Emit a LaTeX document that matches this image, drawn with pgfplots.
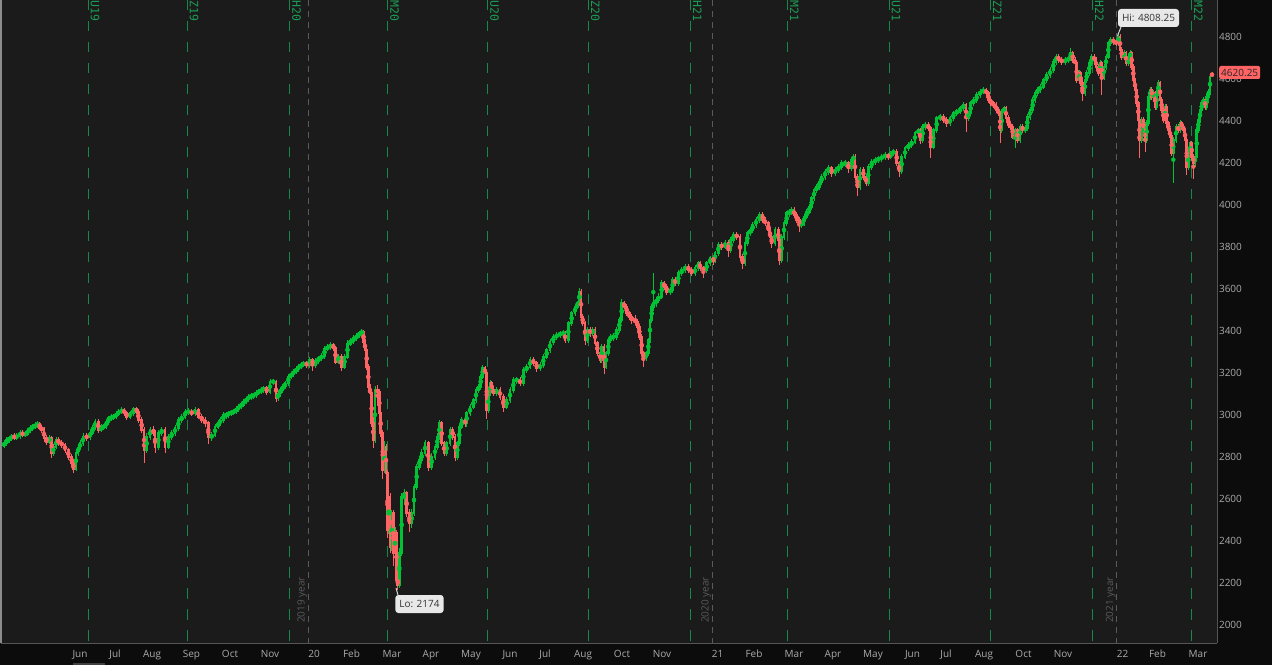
\documentclass[border=0pt]{standalone}
\usepackage{pgfplots}
\pgfplotsset{compat=1.18}
\usepackage{pgfplotstable}
\usepackage{fontspec}
\setmainfont{Open Sans}
\newfontfamily\monofont{DejaVu Sans Mono}
\definecolor{bgplot}{HTML}{1B1B1B}
\definecolor{bgout}{HTML}{0C0C0C}
\definecolor{upc}{HTML}{00C234}
\definecolor{dnc}{HTML}{FF6464}
\definecolor{rollc}{HTML}{15884A}
\definecolor{rolltxt}{HTML}{1B9E55}
\definecolor{yearc}{HTML}{5A5A5A}
\definecolor{tickc}{HTML}{ABABAB}
\definecolor{borderc}{HTML}{555555}
\pgfplotstableread{
x o h l c
4 2855 2872 2848 2865
6.7 2865 2888 2860 2881
9.2 2881 2895 2876 2890
11.7 2890 2903 2884 2897
14.2 2897 2906 2888 2893
16.7 2893 2908 2887 2900
20 2900 2920 2895 2914
22.5 2914 2921 2902 2906
25 2906 2918 2900 2912
27.5 2912 2930 2908 2925
30 2925 2944 2920 2938
32.5 2938 2950 2930 2945
35 2945 2958 2938 2952
37.5 2952 2964 2944 2958
39.5 2958 2962 2935 2940
41.7 2940 2946 2920 2929
44 2929 2934 2880 2890
46.7 2890 2898 2866 2873
49.3 2873 2900 2868 2890
51.7 2890 2894 2800 2819
53.3 2819 2856 2812 2849
56 2849 2888 2844 2881
58.3 2881 2890 2860 2867
61.7 2867 2874 2850 2857
65 2857 2862 2826 2833
68.3 2833 2838 2794 2801
71.7 2801 2806 2762 2771
73.3 2771 2778 2730 2745
76 2745 2826 2740 2819
78 2819 2850 2812 2845
80 2845 2872 2838 2865
83 2865 2905 2860 2897
86.7 2897 2908 2885 2895
90 2895 2920 2890 2914
92.5 2914 2945 2910 2940
95 2940 2975 2935 2968
98.3 2968 2972 2922 2929
101 2929 2948 2924 2940
103.3 2940 2952 2934 2945
106 2945 2970 2940 2965
108.3 2965 2990 2960 2984
111 2984 2996 2978 2990
113.3 2990 3000 2982 2992
116 2992 3010 2986 3005
118.3 3005 3022 3000 3016
121.7 3016 3030 3010 3024
124 3024 3028 3004 3010
126.7 3010 3014 2985 2992
130 2992 3014 2988 3008
133.3 3008 3032 3002 3027
136.7 3027 3032 3010 3016
138.3 3016 3020 2970 2976
141.7 2976 2982 2920 2929
144 2929 2935 2778 2833
146.7 2833 2905 2826 2897
150 2897 2936 2890 2929
153.3 2929 2940 2905 2914
155 2914 2920 2825 2849
158.3 2849 2920 2842 2914
161.7 2914 2938 2908 2929
165 2929 2935 2828 2850
168.3 2850 2904 2844 2897
171.7 2897 2920 2890 2914
175 2914 2944 2908 2938
178.3 2938 2982 2932 2976
181.7 2976 2998 2970 2992
185 2992 3022 2986 3016
188.3 3016 3025 3008 3016
191.7 3016 3020 3000 3008
195 3008 3030 3002 3024
198.3 3024 3028 2986 2992
201.7 2992 2998 2970 2976
205 2976 2982 2952 2960
208.3 2960 2966 2870 2897
211.7 2897 2912 2882 2905
215 2905 2950 2900 2945
218 2945 2966 2940 2960
220 2960 2982 2954 2976
223.3 2976 3005 2970 3000
226 3000 3008 2990 3000
228.3 3000 3014 2995 3008
231 3008 3018 3002 3012
233.3 3012 3022 3006 3016
236 3016 3034 3010 3028
238.3 3028 3046 3022 3040
241 3040 3056 3035 3050
243.3 3050 3070 3045 3064
246 3064 3080 3058 3075
248.3 3075 3092 3070 3087
251 3087 3096 3080 3090
253.3 3090 3100 3084 3095
256 3095 3110 3090 3105
258.3 3105 3116 3100 3111
261 3111 3126 3106 3120
263.3 3120 3132 3114 3127
266.7 3127 3132 3104 3111
270 3111 3164 3106 3159
273.3 3159 3166 3150 3159
276 3159 3162 3070 3081
278 3081 3106 3075 3100
280 3100 3124 3094 3119
282.5 3119 3140 3114 3135
285 3135 3156 3130 3151
288.3 3151 3188 3146 3183
291 3183 3200 3178 3195
293.3 3195 3212 3190 3206
296 3206 3225 3200 3220
298.3 3220 3236 3214 3230
301 3230 3245 3224 3240
303.3 3240 3252 3234 3246
306.7 3246 3252 3230 3238
309.5 3238 3268 3232 3262
312.5 3262 3266 3215 3238
315.5 3238 3264 3232 3258
318.5 3258 3274 3252 3270
321.5 3270 3286 3264 3282
324.5 3282 3322 3276 3316
327.5 3316 3330 3310 3325
330.5 3325 3340 3318 3333
333.3 3333 3338 3312 3318
335.5 3318 3322 3248 3254
338.3 3254 3284 3248 3278
341.3 3278 3282 3215 3230
344.5 3230 3284 3225 3278
347.5 3278 3350 3272 3340
350.5 3340 3362 3336 3352
353.5 3352 3372 3346 3365
356.5 3365 3384 3358 3378
359 3378 3394 3372 3389
361.7 3389 3402 3384 3397
363.5 3397 3400 3340 3349
365 3349 3354 3300 3309
366.7 3309 3314 3222 3230
368.3 3230 3236 3125 3135
370 3135 3140 3085 3103
371.7 3103 3110 2950 2960
373.3 2960 2985 2850 2881
375 2881 3130 2875 3119
377.3 3119 3135 3050 3110
379.3 3110 3115 2995 3008
380.7 3008 3015 2900 2913
382.7 2913 2920 2700 2738
384 2738 2870 2730 2849
386 2849 2855 2712 2722
387.3 2722 2730 2420 2452
388.6 2452 2640 2440 2611
390 2611 2620 2350 2373
391.7 2373 2540 2360 2532
393.3 2532 2540 2290 2341
395 2341 2460 2320 2437
396.5 2437 2445 2200 2214
397.8 2214 2240 2174 2190
399.3 2190 2360 2185 2341
401.7 2341 2620 2335 2611
404 2611 2640 2580 2627
406.7 2627 2632 2520 2532
409.3 2532 2545 2450 2484
411.7 2484 2545 2470 2532
414 2532 2665 2525 2659
416.7 2659 2760 2650 2754
419.3 2754 2800 2745 2786
421.7 2786 2830 2778 2818
425 2818 2876 2810 2865
428.3 2865 2870 2740 2754
431.7 2754 2810 2745 2802
435 2802 2855 2795 2849
437.3 2849 2905 2840 2897
439.3 2897 2968 2890 2960
441.7 2960 2965 2858 2865
444 2865 2870 2810 2818
446.7 2818 2870 2812 2865
450 2865 2935 2858 2929
452.7 2929 2936 2890 2897
455 2897 2902 2790 2802
457.3 2802 2870 2795 2865
459.3 2865 2950 2860 2945
461.7 2945 2982 2938 2976
465 2976 2982 2950 2960
466.7 2960 3012 2952 3008
470 3008 3044 3000 3040
473.3 3040 3074 3034 3071
476 3071 3124 3064 3119
478.3 3119 3140 3112 3135
480.7 3135 3188 3128 3183
482.7 3183 3232 3178 3222
485 3222 3228 3190 3198
486.7 3198 3202 2990 3024
488.3 3024 3110 3018 3103
490 3103 3158 3096 3151
491.7 3151 3156 3110 3119
493.3 3119 3130 3096 3103
496.7 3103 3126 3098 3119
500 3119 3124 3080 3087
503.3 3087 3092 3020 3040
506.7 3040 3078 3034 3071
510 3071 3124 3065 3119
513.3 3119 3172 3112 3167
516.7 3167 3176 3155 3167
520 3167 3172 3144 3151
523.3 3151 3220 3145 3214
526.7 3214 3236 3208 3230
530 3230 3268 3224 3262
533.3 3262 3268 3238 3246
536.7 3246 3252 3214 3222
540 3222 3244 3216 3238
543.3 3238 3284 3232 3278
546.7 3278 3314 3272 3309
550 3309 3354 3302 3349
553.3 3349 3378 3342 3373
556.7 3373 3386 3366 3381
560 3381 3394 3374 3389
563.3 3389 3396 3380 3389
565 3389 3394 3350 3357
568.3 3357 3442 3350 3437
571.7 3437 3490 3430 3484
575 3484 3520 3478 3516
577.3 3516 3538 3510 3532
579.3 3532 3600 3526 3587
581 3587 3592 3460 3468
582.7 3468 3475 3430 3437
585 3437 3442 3340 3357
587.3 3357 3410 3350 3405
590 3405 3412 3380 3389
592.7 3389 3412 3382 3405
595 3405 3410 3335 3341
597.3 3341 3346 3288 3294
600 3294 3300 3255 3262
601.7 3262 3330 3256 3325
604 3325 3330 3200 3230
606 3230 3300 3224 3294
608.3 3294 3362 3288 3357
610.5 3357 3380 3350 3373
613.3 3373 3384 3360 3373
616.7 3373 3410 3366 3405
619.3 3405 3458 3398 3452
621.7 3452 3545 3446 3532
624 3532 3538 3510 3516
626.7 3516 3520 3478 3484
629.3 3484 3490 3460 3468
631.7 3468 3474 3440 3452
635 3452 3468 3436 3444
637.3 3444 3450 3414 3421
639.3 3421 3426 3366 3373
641.7 3373 3378 3286 3294
643.3 3294 3300 3235 3270
646 3270 3300 3262 3294
648.3 3294 3362 3288 3357
650 3357 3458 3350 3452
651.7 3452 3522 3446 3516
653.3 3516 3670 3500 3532
656 3532 3556 3520 3548
658.3 3548 3572 3540 3564
661.7 3564 3634 3558 3627
664 3627 3632 3604 3611
666.7 3611 3618 3580 3587
670 3587 3602 3580 3595
672.7 3595 3650 3588 3643
675 3643 3648 3620 3627
678.3 3627 3682 3620 3675
681.7 3675 3698 3668 3691
685 3691 3714 3684 3706
688.3 3706 3710 3684 3691
691.7 3691 3696 3668 3675
695 3675 3706 3668 3699
698.3 3699 3728 3692 3722
700 3722 3726 3692 3699
703.3 3699 3704 3660 3691
706.7 3691 3728 3684 3722
710 3722 3752 3716 3746
713.3 3746 3752 3720 3738
715 3738 3776 3730 3770
718.3 3770 3818 3764 3810
721.7 3810 3816 3794 3802
725 3802 3826 3796 3818
728.3 3818 3824 3760 3786
730.7 3786 3840 3780 3833
733.3 3833 3864 3826 3857
736.7 3857 3866 3840 3849
740 3849 3854 3740 3754
742.7 3754 3760 3700 3722
745 3722 3824 3716 3818
747.3 3818 3870 3812 3865
750 3865 3888 3858 3881
752.7 3881 3912 3874 3905
756 3905 3936 3898 3929
759.3 3929 3958 3922 3953
762.7 3953 3958 3920 3929
765 3929 3934 3906 3913
768.3 3913 3918 3860 3881
770 3881 3886 3830 3849
771.7 3849 3854 3800 3818
775 3818 3888 3810 3881
778.3 3881 3886 3826 3833
779.3 3833 3840 3720 3738
781.7 3738 3856 3730 3849
784 3849 3920 3842 3913
786.7 3913 3966 3906 3960
789.3 3960 3975 3952 3968
791.7 3968 3984 3958 3976
794 3976 3982 3946 3953
796.7 3953 3958 3920 3929
799.3 3929 3934 3880 3905
801.7 3905 3920 3898 3913
804 3913 3952 3906 3945
806.7 3945 3975 3938 3968
809.3 3968 3998 3962 3992
811.7 3992 4038 3986 4032
814 4032 4076 4026 4071
816.7 4071 4094 4064 4087
819.3 4087 4118 4080 4111
821.7 4111 4142 4104 4135
825 4135 4166 4128 4159
828.3 4159 4182 4152 4175
831.7 4175 4180 4140 4151
835 4151 4174 4144 4167
838.3 4167 4190 4160 4183
841.7 4183 4206 4176 4199
845 4199 4206 4186 4199
848.3 4199 4204 4160 4175
851.7 4175 4220 4168 4214
853.3 4214 4238 4208 4230
855 4230 4234 4128 4135
857.3 4135 4140 4050 4087
860 4087 4174 4080 4167
863.3 4167 4172 4126 4135
866 4135 4140 4096 4103
868.3 4103 4190 4096 4183
871.7 4183 4212 4176 4206
875 4206 4220 4198 4214
878.3 4214 4228 4206 4222
881.7 4222 4236 4214 4230
885 4230 4244 4222 4238
888.3 4238 4242 4222 4230
890.7 4230 4252 4224 4246
893.3 4246 4262 4240 4254
896.7 4254 4258 4192 4199
899 4199 4204 4140 4160
901.7 4160 4236 4154 4230
905 4230 4276 4224 4270
908.3 4270 4292 4264 4286
911.7 4286 4308 4280 4302
915 4302 4346 4296 4341
918.3 4341 4362 4334 4357
920 4357 4362 4296 4310
922.7 4310 4378 4304 4373
925 4373 4388 4366 4381
928.3 4381 4386 4358 4365
930.7 4365 4370 4230 4278
933.3 4278 4362 4272 4357
936.7 4357 4418 4350 4413
940 4413 4428 4406 4421
943.3 4421 4426 4398 4405
946.7 4405 4410 4380 4389
950 4389 4418 4382 4413
953.3 4413 4442 4406 4437
956.7 4437 4452 4430 4445
960 4445 4466 4438 4460
963.3 4460 4482 4454 4476
966 4476 4480 4357 4413
968.3 4413 4442 4406 4437
970.7 4437 4490 4430 4484
973.3 4484 4506 4478 4500
976.7 4500 4530 4494 4524
980 4524 4546 4518 4540
983.3 4540 4554 4534 4548
986 4548 4552 4526 4532
988.3 4532 4538 4494 4500
990.7 4500 4506 4478 4484
993.3 4484 4490 4468 4476
996 4476 4482 4446 4452
998.3 4452 4458 4430 4437
1000 4437 4442 4300 4357
1001.7 4357 4450 4350 4445
1004 4445 4466 4438 4460
1006 4460 4466 4406 4413
1008.3 4413 4420 4374 4381
1010.7 4381 4388 4366 4373
1012.7 4373 4378 4320 4326
1015 4326 4362 4278 4357
1017.3 4357 4362 4302 4310
1020 4310 4378 4304 4373
1022.7 4373 4380 4350 4357
1025 4357 4372 4350 4365
1027.3 4365 4426 4358 4421
1030 4421 4458 4414 4452
1032.7 4452 4506 4446 4500
1035 4500 4538 4494 4532
1037.3 4532 4554 4526 4548
1040 4548 4570 4542 4564
1043.3 4564 4600 4558 4595
1046.7 4595 4624 4588 4619
1050 4619 4648 4612 4643
1053.3 4643 4688 4636 4683
1056 4683 4712 4676 4706
1058.3 4706 4712 4684 4690
1061.7 4690 4696 4676 4683
1065 4683 4696 4676 4690
1068.3 4690 4704 4682 4698
1070.7 4698 4742 4692 4722
1072.7 4722 4728 4684 4690
1075 4690 4696 4668 4675
1076.7 4675 4680 4588 4595
1079 4595 4634 4588 4627
1080.7 4627 4632 4572 4579
1082.3 4579 4586 4500 4532
1085 4532 4602 4526 4595
1086.7 4595 4634 4588 4627
1089.3 4627 4682 4620 4675
1091.7 4675 4712 4668 4706
1094 4706 4712 4684 4690
1096 4690 4696 4652 4659
1098.3 4659 4664 4620 4627
1100 4627 4682 4620 4675
1101.7 4675 4680 4532 4611
1104 4611 4666 4604 4659
1106 4659 4712 4652 4706
1108.3 4706 4776 4700 4770
1110.7 4770 4794 4762 4786
1113.3 4786 4792 4770 4778
1116 4778 4784 4762 4770
1118.3 4770 4808 4764 4802
1120 4802 4806 4730 4738
1121.7 4738 4744 4698 4706
1124 4706 4730 4700 4722
1126 4722 4728 4668 4675
1128.3 4675 4712 4668 4706
1130 4706 4730 4700 4722
1131.7 4722 4728 4652 4659
1133.3 4659 4664 4588 4595
1135 4595 4600 4540 4548
1136.7 4548 4554 4476 4484
1138.3 4484 4490 4398 4405
1139.3 4405 4412 4230 4310
1141.7 4310 4412 4300 4405
1143.3 4405 4410 4350 4357
1145 4357 4362 4260 4310
1146.7 4310 4396 4302 4389
1148.3 4389 4522 4382 4516
1150 4516 4556 4508 4548
1151.7 4548 4554 4508 4516
1153.3 4516 4540 4510 4532
1155 4532 4538 4460 4468
1156.7 4468 4540 4460 4532
1158.3 4532 4590 4526 4579
1160 4579 4584 4492 4500
1161.7 4500 4506 4444 4452
1163.3 4452 4458 4396 4405
1165 4405 4476 4398 4468
1166.7 4468 4474 4380 4389
1168.3 4389 4394 4350 4357
1170 4357 4362 4318 4326
1171.7 4326 4332 4238 4246
1173.3 4246 4318 4114 4310
1176 4310 4380 4302 4373
1178.3 4373 4380 4350 4357
1180 4357 4396 4350 4389
1181.7 4389 4394 4366 4373
1183.3 4373 4378 4350 4357
1185 4357 4362 4302 4310
1186.7 4310 4316 4150 4183
1188.3 4183 4254 4176 4246
1190 4246 4300 4238 4294
1191.7 4294 4300 4222 4230
1193.3 4230 4236 4130 4199
1195 4199 4238 4190 4230
1196.7 4230 4364 4222 4357
1198.3 4357 4412 4350 4405
1200 4405 4458 4398 4452
1201.7 4452 4490 4446 4484
1203.3 4484 4506 4478 4500
1205 4500 4506 4460 4468
1206.7 4468 4522 4460 4516
1208.3 4516 4546 4508 4540
1210 4540 4618 4532 4611
1212 4621 4626 4615 4620.25
}\es
\begin{document}
\begin{tikzpicture}
\useasboundingbox (0,0) rectangle (1272pt,665pt);
\fill[bgout] (0,0) rectangle (1272pt,665pt);
\fill[black!75] (73pt,0pt) rectangle (105pt,2.5pt);
\begin{axis}[
  at={(1pt,22pt)}, anchor=south west,
  scale only axis, width=1216pt, height=643pt,
  xmin=1, xmax=1217, ymin=1914.3, ymax=4976.2,
  axis background/.style={fill=bgplot},
  axis line style={draw=none},
  major tick length=0pt, minor tick length=0pt,
  /pgf/number format/assume math mode=true,
  /pgf/number format/1000 sep={},
  ytick={2000,2200,...,4800},
  yticklabel pos=right,
  yticklabel style={anchor=west, xshift=-1.5pt, text=tickc, font=\fontsize{10}{12}\selectfont},
  xtick={80,115,152,191.5,230,270,314,351.5,392,431,471,510,545,583,622,662,717.5,754,794,833,873,912.5,946,984,1023.5,1063,1122.5,1157.5,1198},
  xticklabels={Jun,Jul,Aug,Sep,Oct,Nov,20,Feb,Mar,Apr,May,Jun,Jul,Aug,Oct,Nov,21,Feb,Mar,Apr,May,Jun,Jul,Aug,Oct,Nov,22,Feb,Mar},
  xticklabel style={anchor=base, yshift=-14pt, text=tickc, font=\fontsize{10}{12}\selectfont},
  clip=false,
]
% roll lines
\foreach \xx in {88,187,289.5,387.5,487.5,588.3,690.3,787.5,889,990.3,1092.3,1191.5}{
  \edef\tmp{\noexpand\draw[rollc, line width=1pt, dash pattern=on 10.5pt off 10.5pt] (axis cs:\xx,4976.2) -- (axis cs:\xx,1914.3);}\tmp
}
% year lines
\foreach \xx in {308.3,712.3,1116.7}{
  \edef\tmp{\noexpand\draw[yearc, line width=1pt, dash pattern=on 6pt off 5pt] (axis cs:\xx,4976.2) -- (axis cs:\xx,1914.3);}\tmp
}
% wicks
\addplot[only marks, mark=none, color=upc, forget plot,
  error bars/.cd, y dir=both, y explicit, error mark=none,
  error bar style={line width=0.9pt, color=upc}]
  table[x=x, y expr={\thisrow{c}>=\thisrow{o} ? (\thisrow{h}+\thisrow{l})/2 : nan},
        y error expr={(\thisrow{h}-\thisrow{l})/2+7}] {\es};
\addplot[only marks, mark=none, color=dnc, forget plot,
  error bars/.cd, y dir=both, y explicit, error mark=none,
  error bar style={line width=0.9pt, color=dnc}]
  table[x=x, y expr={\thisrow{c}<\thisrow{o} ? (\thisrow{h}+\thisrow{l})/2 : nan},
        y error expr={(\thisrow{h}-\thisrow{l})/2+7}] {\es};
% bodies
\addplot[only marks, mark=none, color=upc, forget plot,
  error bars/.cd, y dir=both, y explicit, error mark=none,
  error bar style={line width=2.7pt, color=upc}]
  table[x=x, y expr={\thisrow{c}>=\thisrow{o} ? (\thisrow{o}+\thisrow{c})/2 : nan},
        y error expr={abs(\thisrow{c}-\thisrow{o})/2+5}] {\es};
\addplot[only marks, mark=none, color=dnc, forget plot,
  error bars/.cd, y dir=both, y explicit, error mark=none,
  error bar style={line width=2.7pt, color=dnc}]
  table[x=x, y expr={\thisrow{c}<\thisrow{o} ? (\thisrow{o}+\thisrow{c})/2 : nan},
        y error expr={abs(\thisrow{c}-\thisrow{o})/2+5}] {\es};
% roll labels
\foreach \xx/\lab in {88/U19,187/Z19,289.5/H20,387.5/M20,487.5/U20,588.3/Z20,690.3/H21,787.5/M21,889/U21,990.3/Z21,1092.3/H22,1191.5/M22}{
  \edef\tmp{\noexpand\node[rotate=-90, anchor=south west, inner sep=0pt, text=rolltxt, font=\noexpand\monofont\noexpand\fontsize{11.5}{12}\noexpand\selectfont] at (axis cs:\xx+2.5,4976.2) {\lab};}\tmp
}
% year labels
\foreach \xx/\lab in {307.3/2019 year,711.3/2020 year,1115.7/2021 year}{
  \edef\tmp{\noexpand\node[rotate=90, anchor=south west, inner sep=0pt, text=yearc, font=\noexpand\fontsize{10}{12}\noexpand\selectfont] at (axis cs:\xx,2009.5) {\lab};}\tmp
}
% hi / lo
\draw[black!15, line width=1pt] (axis cs:1121,4847.6) -- (axis cs:1117.5,4806);
\node[fill=black!9, text=black!80, rounded corners=3pt, inner xsep=4pt, minimum height=18pt, inner ysep=0pt, font=\fontsize{10}{12}\selectfont] at (axis cs:1148.5,4890.5) {Hi: 4808.25};
\draw[black!15, line width=1pt] (axis cs:398,2142.9) -- (axis cs:396,2176);
\node[fill=black!9, text=black!80, rounded corners=3pt, inner xsep=4pt, minimum height=18pt, inner ysep=0pt, font=\fontsize{10}{12}\selectfont] at (axis cs:419.5,2100) {Lo: 2174};
% borders
\draw[borderc, line width=1pt] (rel axis cs:0,0) -- (rel axis cs:1,0);
\draw[borderc, line width=1pt] (rel axis cs:1,0) -- (rel axis cs:1,1);
\draw[black!45, line width=1.2pt] (rel axis cs:0,0) -- (rel axis cs:0,1);
\end{axis}
\node[fill=dnc, text=black!85, rounded corners=2pt, inner xsep=2pt, inner ysep=0pt, minimum height=13pt, anchor=west, font=\fontsize{10}{12}\selectfont] at (1219pt,592.5pt) {4620.25};
\end{tikzpicture}
\end{document}
